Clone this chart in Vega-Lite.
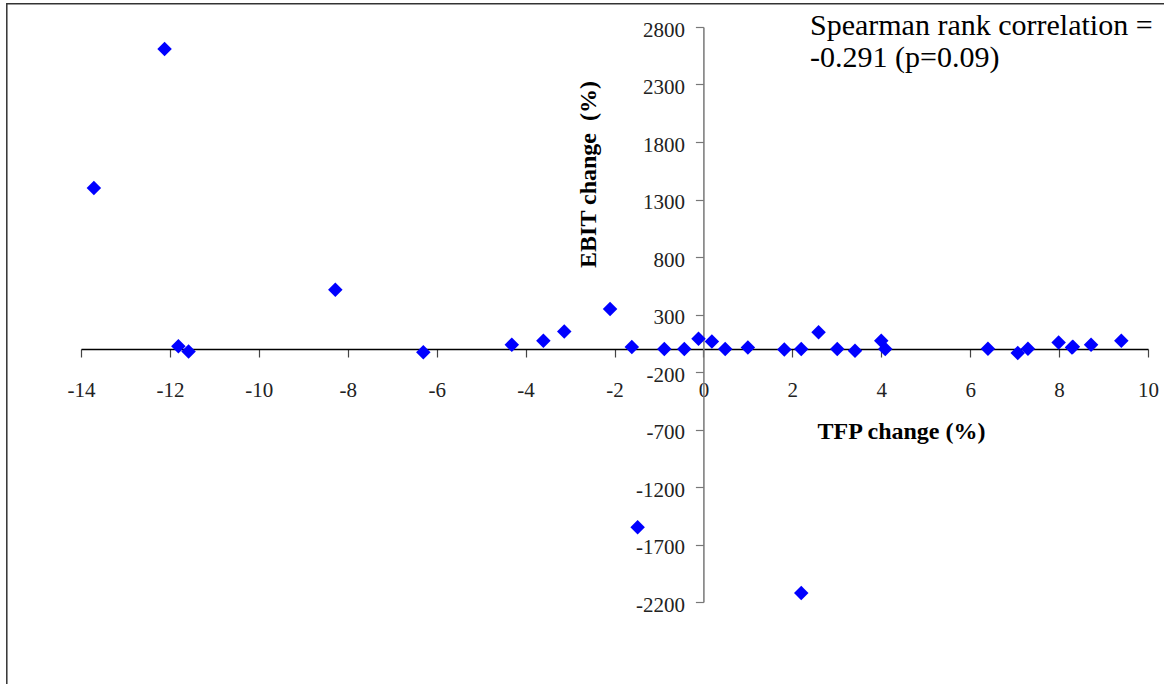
{
  "$schema": "https://vega.github.io/schema/vega-lite/v6.json",
  "width": 1067,
  "height": 575,
  "autosize": {"type": "none"},
  "padding": {"left": 81, "top": 27, "right": 16, "bottom": 82},
  "background": "white",
  "config": {"view": {"stroke": null}, "font": "Liberation Serif"},
  "layer": [
    {
      "data": {"values": [
        {"tfp": -13.71, "ebit": 1400},
        {"tfp": -12.12, "ebit": 2608},
        {"tfp": -11.81, "ebit": 23},
        {"tfp": -11.58, "ebit": -21},
        {"tfp": -8.28, "ebit": 516},
        {"tfp": -6.30, "ebit": -29},
        {"tfp": -4.31, "ebit": 37},
        {"tfp": -3.60, "ebit": 72},
        {"tfp": -3.13, "ebit": 153},
        {"tfp": -2.10, "ebit": 348},
        {"tfp": -1.61, "ebit": 17},
        {"tfp": -1.48, "ebit": -1551},
        {"tfp": -0.88, "ebit": 0},
        {"tfp": -0.43, "ebit": 0},
        {"tfp": -0.11, "ebit": 90},
        {"tfp": 0.19, "ebit": 66},
        {"tfp": 0.49, "ebit": 0},
        {"tfp": 1.00, "ebit": 14},
        {"tfp": 1.82, "ebit": -4},
        {"tfp": 2.20, "ebit": -2122},
        {"tfp": 2.20, "ebit": 0},
        {"tfp": 2.59, "ebit": 145},
        {"tfp": 3.01, "ebit": 0},
        {"tfp": 3.41, "ebit": -15},
        {"tfp": 4.00, "ebit": 72},
        {"tfp": 4.09, "ebit": 0},
        {"tfp": 6.40, "ebit": 3},
        {"tfp": 7.07, "ebit": -35},
        {"tfp": 7.30, "ebit": 3},
        {"tfp": 7.99, "ebit": 57},
        {"tfp": 8.29, "ebit": 14},
        {"tfp": 8.31, "ebit": 20},
        {"tfp": 8.72, "ebit": 37},
        {"tfp": 9.40, "ebit": 72}
      ]},
      "mark": {"type": "point", "shape": "diamond", "filled": true, "size": 210, "color": "#0000FF", "opacity": 1, "strokeWidth": 0, "clip": false},
      "encoding": {
        "x": {
          "field": "tfp", "type": "quantitative",
          "scale": {"domain": [-14, 10], "nice": false, "zero": false},
          "axis": {
            "values": [-14, -12, -10, -8, -6, -4, -2, 0, 2, 4, 6, 8, 10],
            "offset": -253,
            "grid": false,
            "domainColor": "#000000",
            "domainWidth": 1.5,
            "tickColor": "#444444",
            "tickSize": 8,
            "tickWidth": 1.2,
            "labelExpr": "'' + datum.value",
            "labelFont": "Liberation Serif",
            "labelFontSize": 21,
            "labelColor": "#222222",
            "labelPadding": 33,
            "labelBaseline": "middle",
            "labelOverlap": false,
            "labelFlush": false,
            "labelBound": false,
            "title": "TFP change (%)",
            "titleFont": "Liberation Serif",
            "titleFontSize": 24,
            "titleFontWeight": "bold",
            "titleColor": "#000000",
            "titleX": 820,
            "titleY": 82,
            "titleAlign": "center",
            "titleBaseline": "middle"
          }
        },
        "y": {
          "field": "ebit", "type": "quantitative",
          "scale": {"domain": [-2200, 2800], "nice": false, "zero": false},
          "axis": {
            "values": [-2200, -1700, -1200, -700, -200, 300, 800, 1300, 1800, 2300, 2800],
            "offset": -622.4,
            "grid": false,
            "domainColor": "#777777",
            "domainWidth": 1.5,
            "tickColor": "#777777",
            "tickSize": 8,
            "tickWidth": 1.2,
            "labelExpr": "'' + datum.value",
            "labelFont": "Liberation Serif",
            "labelFontSize": 21,
            "labelColor": "#222222",
            "labelPadding": 11,
            "labelOffset": 3,
            "labelBaseline": "middle",
            "labelOverlap": false,
            "labelFlush": false,
            "labelBound": false,
            "title": "EBIT change \u00a0(%)",
            "titleFont": "Liberation Serif",
            "titleFontSize": 24,
            "titleFontWeight": "bold",
            "titleColor": "#000000",
            "titleAngle": 270,
            "titleX": -115,
            "titleY": 147,
            "titleAlign": "center",
            "titleBaseline": "middle"
          }
        }
      }
    },
    {
      "data": {"values": [{"frame": "chart area"}]},
      "mark": {"type": "rect", "fill": null, "stroke": "#333333", "strokeWidth": 1.5, "clip": false},
      "encoding": {
        "x": {"datum": -15.669, "type": "quantitative"},
        "x2": {"datum": 12},
        "y": {"datum": 3002, "type": "quantitative"},
        "y2": {"datum": -5000}
      }
    },
    {
      "data": {"values": [{"note": "Spearman rank correlation =\n-0.291 (p=0.09)"}]},
      "mark": {"type": "text", "align": "left", "baseline": "alphabetic", "font": "Liberation Serif", "fontSize": 30, "lineHeight": 32, "lineBreak": "\n", "color": "#000000", "clip": false},
      "encoding": {
        "x": {"datum": 2.397, "type": "quantitative"},
        "y": {"datum": 2730, "type": "quantitative"},
        "text": {"field": "note"}
      }
    }
  ]
}
